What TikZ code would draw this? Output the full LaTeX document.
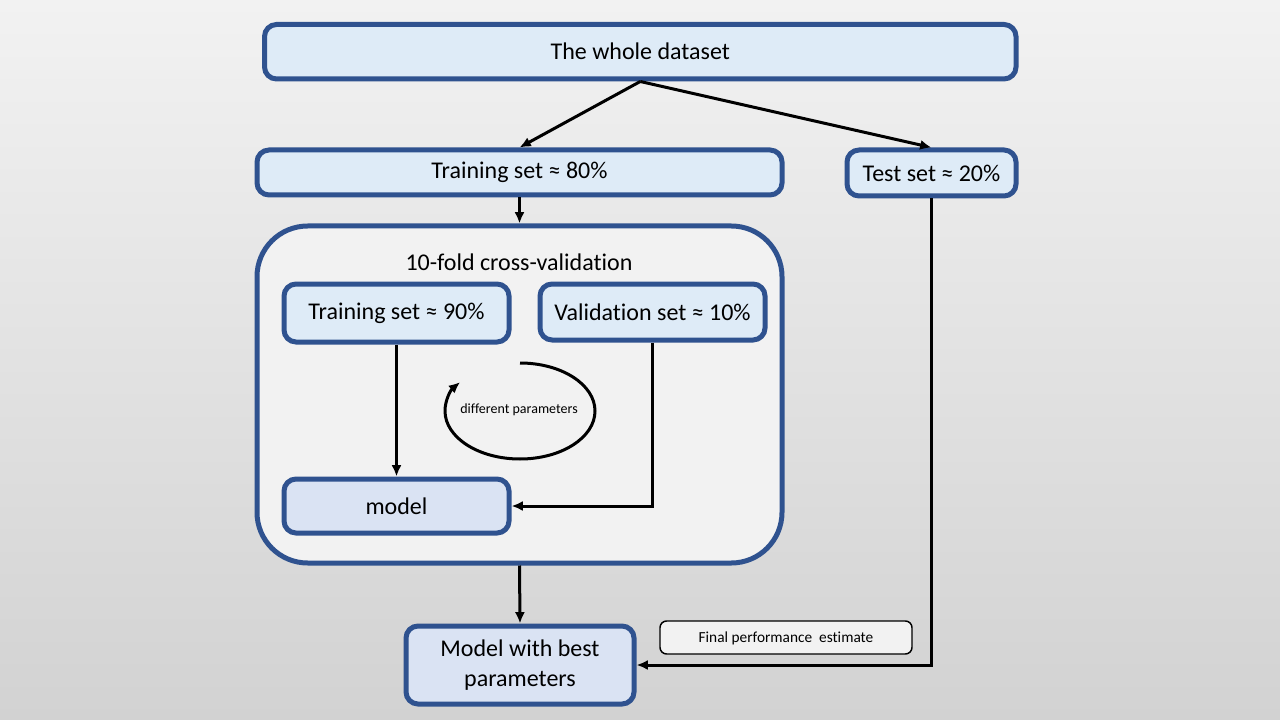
\documentclass[tikz,border=0pt]{standalone}
\usepackage{fontspec}
\setmainfont{Carlito}[Ligatures={NoCommon}]
\usetikzlibrary{fit,arrows.meta}
\definecolor{bord}{HTML}{2F528F}
\definecolor{lblue}{HTML}{DEEBF7}
\definecolor{mblue}{HTML}{DAE3F3}
\definecolor{cvfill}{HTML}{F2F2F2}
\definecolor{bgtop}{HTML}{F2F2F2}
\definecolor{bgbot}{HTML}{D2D2D2}
\tikzset{
  box/.style={draw=bord, line width=3.75pt, fill=lblue, rounded corners=9pt, inner sep=0pt},
  mbox/.style={box, fill=mblue},
  big/.style={font=\fontsize{18}{22}\selectfont, align=center, inner sep=0pt},
  cvbox/.style={draw=bord, line width=3.75pt, fill=cvfill, rounded corners=38pt, inner sep=0pt},
  notebox/.style={draw=black, line width=1.1pt, fill=cvfill, rounded corners=5pt, inner sep=0pt},
  conn/.style={line width=2.25pt, -{Latex[length=8.5pt,width=7.5pt]}},
}
\begin{document}
\begin{tikzpicture}[x=0.75pt,y=-0.75pt]
\useasboundingbox (0,0) rectangle (1280,720);
\shade[top color=bgtop, bottom color=bgbot] (0,0) rectangle (1280,720);
\node[box, fit={(264.5,24.5) (1016,79)}] (whole) {};
\node[big] (wholeT) at (whole.center) {The whole dataset};
\node[box, fit={(257,150) (782,195)}] (train80) {};
\node[big] (train80T) at (train80.center) {Training set ≈ 80\%};
\node[box, fit={(847,150) (1016,196)}] (test) {};
\node[big] (testT) at (test.center) {Test set ≈ 20\%};
\node[cvbox, fit={(257,226) (782,563)}] (cv) {};
\node[big] (cvlabel) at (519,262) {10-fold cross-validation};
\node[box, fit={(284,284) (509,342)}] (train90) {};
\node[big] (train90T) at (train90.center) {Training set ≈ 90\%};
\node[box, fit={(540,284) (765,340)}] (valid) {};
\node[big] (validT) at (valid.center) {Validation set ≈ 10\%};
\node[mbox, fit={(284,479) (509,533)}] (model) {};
\node[big] (modelT) at (model.center) {model};
\node[mbox, fit={(406,626) (634,704)}] (best) {};
\node[big] (bestT) at (best.center) {Model with best\\parameters};
\node[notebox, fit={(660,621) (912,654)}] (final) {};
\node[font=\fontsize{11.5}{13}\selectfont] (finalT) at ([yshift=-1pt]final.center) {Final performance\ \ estimate};
\node[font=\fontsize{10.5}{12}\selectfont] (diff) at (519,410) {different parameters};
\draw[line width=2.25pt, -{Latex[length=8.5pt,width=7.5pt]}] (520,363) arc[start angle=90, end angle=-217, x radius=56.25pt, y radius=36pt];
\draw[conn] (whole.south) -- (train80.north);
\draw[conn] (whole.south) -- (test.north);
\draw[conn] (train80.south) -- (cv.north);
\draw[conn] (train90.south) -- (model.north);
\draw[conn] (valid.south) |- (model.east);
\draw[conn] (cv.south) -- (best.north);
\draw[conn] (test.south) |- (best.east);
\end{tikzpicture}
\end{document}
